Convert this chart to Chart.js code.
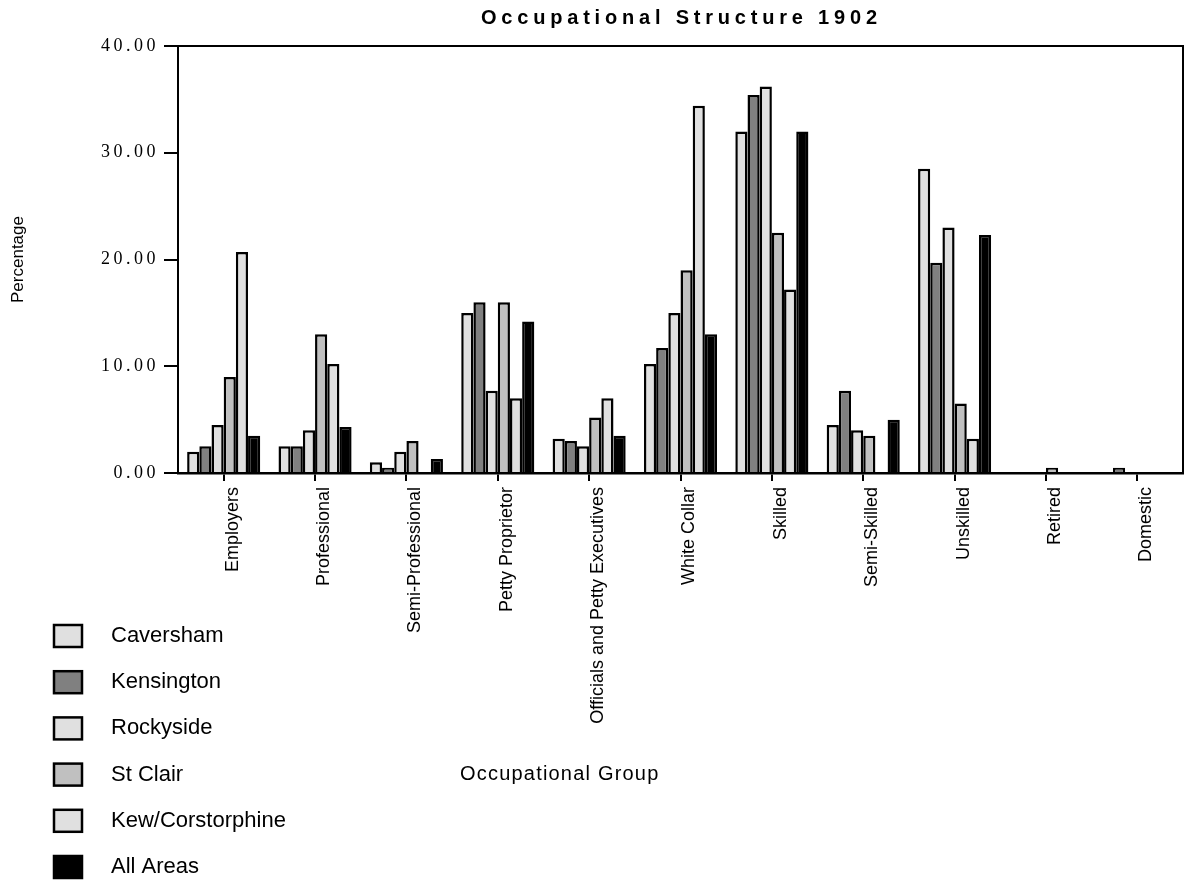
<!DOCTYPE html>
<html>
<head>
<meta charset="utf-8">
<title>Occupational Structure 1902</title>
<script src="https://cdn.jsdelivr.net/npm/chart.js@4.4.1/dist/chart.umd.min.js"></script>
<style>
    html, body { margin: 0; padding: 0; background: #ffffff; }
    #wrap { width: 1186px; height: 882px; }
</style>
</head>
<body>
<div id="wrap"><canvas id="occ-chart" width="1186" height="882"></canvas></div>
<script>
// 数据
const groups = ['Employers', 'Professional', 'Semi-Professional', 'Petty Proprietor',
    'Officials and Petty Executives', 'White Collar', 'Skilled', 'Semi-Skilled',
    'Unskilled', 'Retired', 'Domestic'];
const areaNames = ['Caversham', 'Kensington', 'Rockyside', 'St Clair', 'Kew/Corstorphine', 'All Areas'];
const caversham = [2.0, 2.5, 1.0, 15.0, 3.2, 10.2, 32.0, 4.5, 28.5, 0, 0];
const kensington = [2.5, 2.5, 0.5, 16.0, 3.0, 11.7, 35.4, 7.7, 19.7, 0, 0.5];
const rockyside = [4.5, 4.0, 2.0, 7.7, 2.5, 15.0, 36.2, 4.0, 23.0, 0, 0];
const stClair = [9.0, 13.0, 3.0, 16.0, 5.2, 19.0, 22.5, 3.5, 6.5, 0.5, 0];
const kewCorstorphine = [20.7, 10.2, 0, 7.0, 7.0, 34.4, 17.2, 0, 3.2, 0, 0];
const allAreas = [3.5, 4.3, 1.3, 14.2, 3.5, 13.0, 32.0, 5.0, 22.3, 0, 0];
const yTicks = [0, 10, 20, 30, 40];

const seriesValues = [caversham, kensington, rockyside, stClair, kewCorstorphine, allAreas];
const fills = ['#e0e0e0', '#808080', '#e0e0e0', '#c0c0c0', '#e0e0e0', '#000000'];

const SANS = '"Liberation Sans", Arial, sans-serif';
const SERIF = '"Liberation Serif", "Times New Roman", serif';

// 边框、标题和图例
const decorPlugin = {
    id: 'decor',
    afterDatasetsDraw(chart) {
        const { ctx, chartArea } = chart;
        ctx.save();
        ctx.strokeStyle = '#000';
        ctx.lineWidth = 2;
        ctx.strokeRect(chartArea.left, chartArea.top,
            chartArea.right - chartArea.left, chartArea.bottom - chartArea.top);
        ctx.restore();
        // y tick labels are on a later layer (z: 1), give them the wide spacing
        ctx.letterSpacing = '3.5px';
    },
    afterDraw(chart) {
        const ctx = chart.ctx;
        ctx.letterSpacing = '0px';
        ctx.save();
        ctx.fillStyle = '#000';
        ctx.textBaseline = 'alphabetic';

        // 标题
        ctx.font = 'bold 20px ' + SANS;
        ctx.letterSpacing = '4.8px';
        ctx.textAlign = 'left';
        ctx.fillText('Occupational Structure 1902', 481, 24);

        // x轴标题
        ctx.font = '20px ' + SANS;
        ctx.letterSpacing = '1.2px';
        ctx.fillText('Occupational Group', 460, 780);

        // 图例
        ctx.letterSpacing = '0px';
        ctx.font = '22px ' + SANS;
        chart.data.datasets.forEach((ds, i) => {
            const y = 625 + i * 46.2;
            ctx.fillStyle = ds.backgroundColor;
            ctx.fillRect(54, y, 28, 22);
            ctx.strokeStyle = '#000';
            ctx.lineWidth = 2.5;
            ctx.strokeRect(54, y, 28, 22);
            ctx.fillStyle = '#000';
            ctx.fillText(ds.label, 111, y + 17);
        });
        ctx.restore();
    }
};

const datasets = areaNames.map((name, i) => ({
    label: name,
    data: seriesValues[i],
    backgroundColor: fills[i],
    borderColor: '#000000',
    borderWidth: 2.5,
    categoryPercentage: 0.8,
    barPercentage: 1.0
}));

const chart = new Chart(document.getElementById('occ-chart').getContext('2d'), {
    type: 'bar',
    data: { labels: groups, datasets: datasets },
    options: {
        responsive: false,
        animation: false,
        devicePixelRatio: 1,
        layout: { padding: { top: 46, right: 3, bottom: 0, left: 0 } },
        plugins: {
            legend: { display: false },
            title: { display: false },
            tooltip: { enabled: false }
        },
        scales: {
            x: {
                afterFit: (scale) => { scale.height = 882 - 473; },
                grid: { drawOnChartArea: false, offset: false, tickLength: 8, color: '#000', lineWidth: 2 },
                border: { color: '#000', width: 2.5 },
                ticks: {
                    autoSkip: false,
                    minRotation: 90,
                    maxRotation: 90,
                    padding: 6,
                    labelOffset: 9,
                    color: '#000',
                    font: { family: SANS, size: 18 }
                }
            },
            y: {
                min: 0,
                max: 40,
                afterFit: (scale) => { scale.width = 178; },
                afterBuildTicks: (scale) => { scale.ticks = yTicks.map(v => ({ value: v })); },
                grid: { drawOnChartArea: false, tickLength: 14, color: '#000', lineWidth: 2 },
                border: { color: '#000', width: 2 },
                ticks: {
                    z: 1,
                    padding: 5,
                    color: '#000',
                    font: { family: SERIF, size: 18 },
                    callback: (v) => Number(v).toFixed(2)
                },
                title: {
                    display: true,
                    text: 'Percentage',
                    color: '#000',
                    font: { family: SANS, size: 17 },
                    padding: { top: 8, bottom: 0 }
                }
            }
        }
    },
    plugins: [decorPlugin]
});
</script>
</body>
</html>
